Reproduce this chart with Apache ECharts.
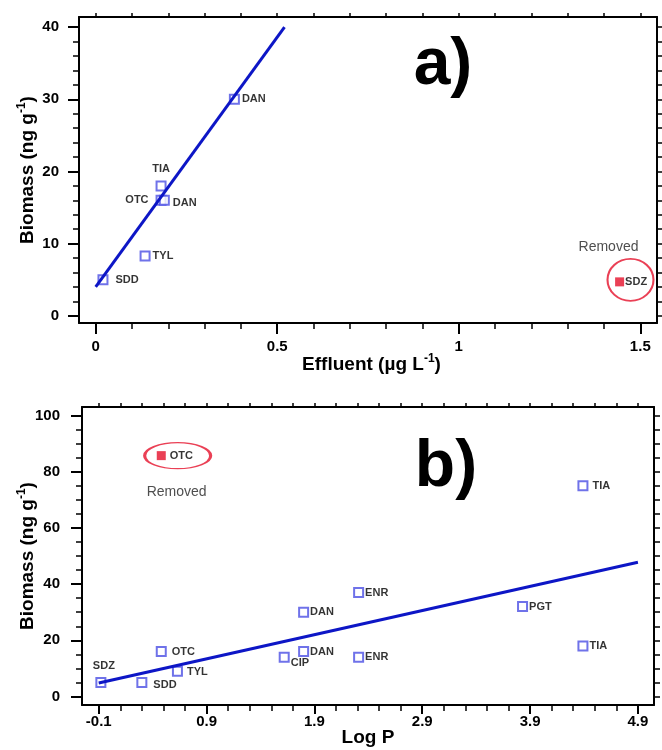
<!DOCTYPE html>
<html>
<head>
<meta charset="utf-8">
<script src="https://cdn.jsdelivr.net/npm/echarts@6/dist/echarts.min.js"></script>
<style>html,body{margin:0;padding:0;background:#fff}#c{width:662px;height:750px}</style>
</head>
<body>
<div id="c"></div>
<script>
// ---------- Panel a data ----------
const aNames = ['SDD', 'TYL', 'OTC', 'DAN', 'TIA', 'DAN'];
const aEffluent = [0.02, 0.136, 0.18, 0.189, 0.18, 0.382];
const aBiomass = [5, 8.3, 16, 16, 18, 30];
const aRemovedNames = ['SDZ'];
const aRemovedEffluent = [1.443];
const aRemovedBiomass = [4.7];
const aFitEffluent = [0, 0.52];
const aFitBiomass = [4, 40];
const aRingEffluent = [1.473];
const aRingBiomass = [4.98];
const aXTickLabels = [0, 0.5, 1, 1.5];
const aYTickLabels = [0, 10, 20, 30, 40];

// ---------- Panel b data ----------
const bNames = ['SDZ', 'SDD', 'OTC', 'TYL', 'CIP', 'DAN', 'DAN', 'ENR', 'ENR', 'PGT', 'TIA', 'TIA'];
const bLogP = [-0.08, 0.3, 0.48, 0.63, 1.62, 1.8, 1.8, 2.31, 2.31, 3.83, 4.39, 4.39];
const bBiomass = [5, 5, 16, 9, 14, 30, 16, 37, 14, 32, 75, 18];
const bRemovedNames = ['OTC'];
const bRemovedLogP = [0.48];
const bRemovedBiomass = [85.7];
const bFitLogP = [-0.1, 4.9];
const bFitBiomass = [4.8, 47.8];
const bRingLogP = [0.632];
const bRingBiomass = [85.7];
const bXTickLabels = [-0.1, 0.9, 1.9, 2.9, 3.9, 4.9];
const bYTickLabels = [0, 20, 40, 60, 80, 100];

// ---------- helpers ----------
const FONT = 'Liberation Sans, Arial, Helvetica, sans-serif';
function steps(from, to, step) {
  const out = [];
  const n = Math.round((to - from) / step);
  for (let i = 0; i <= n; i++) out.push(Math.round((from + i * step) * 1000) / 1000);
  return out;
}
const BOX = '#4b4fe4';
const LINE = '#0d16c6';
const RED = '#e5102a';

// label placements (layout only)
const aLabelLayout = [
  { position: 'right', distance: 7 },
  { position: 'right', distance: 2 },
  { position: 'left', distance: 7 },
  { position: 'right', distance: 3, offset: [0, 3] },
  { position: 'top', distance: 6 },
  { position: 'right', distance: 2 }
];
const bLabelLayout = [
  { position: 'top', distance: 6, offset: [3, 0] },
  { position: 'right', distance: 6, offset: [0, 2] },
  { position: 'right', distance: 5 },
  { position: 'right', distance: 4, offset: [0, 1] },
  { position: 'right', distance: 1, offset: [0, 6] },
  { position: 'right', distance: 1 },
  { position: 'right', distance: 1 },
  { position: 'right', distance: 1 },
  { position: 'right', distance: 1 },
  { position: 'right', distance: 1 },
  { position: 'right', distance: 4 },
  { position: 'right', distance: 1 }
];

function pts(xs, ys, names, layout) {
  return xs.map((x, i) => {
    const it = { value: [x, ys[i]], name: names ? names[i] : '' };
    if (layout) it.label = Object.assign({}, layout[i]);
    return it;
  });
}

const labelBase = { show: true, formatter: '{b}', color: '#000', fontSize: 11, fontWeight: 'bold', fontFamily: FONT };
const tickLabelStyle = { color: '#000', fontSize: 15, fontWeight: 'bold', fontFamily: FONT };
const nameRich = {
  n: { fontSize: 19, fontWeight: 'bold', fontFamily: FONT, color: '#000', lineHeight: 24 },
  s: { fontSize: 12, fontWeight: 'bold', fontFamily: FONT, color: '#000', lineHeight: 14, verticalAlign: 'top' }
};
const lineStyleAxis = { color: '#000', width: 2 };

function xAxes(grid, min, max, major, minor, topTicks, name, nameGap, labelMargin, majLen, minLen, namePad) {
  return [
    {
      type: 'value', gridIndex: grid, position: 'bottom', min, max,
      axisLine: { show: true, onZero: false, lineStyle: lineStyleAxis },
      axisTick: { show: true, customValues: major, length: majLen, lineStyle: { color: '#000', width: 2 } },
      axisLabel: Object.assign({ show: true, customValues: major, margin: labelMargin, showMinLabel: true, showMaxLabel: true }, tickLabelStyle),
      splitLine: { show: false },
      name, nameLocation: 'middle', nameGap, nameMoveOverlap: false,
      nameTextStyle: { rich: nameRich, fontSize: 19, fontWeight: 'bold', fontFamily: FONT, color: '#000', padding: namePad }
    },
    {
      type: 'value', gridIndex: grid, position: 'bottom', min, max,
      axisLine: { show: false, onZero: false },
      axisTick: { show: true, customValues: minor, length: minLen, lineStyle: { color: '#000', width: 1.5 } },
      axisLabel: { show: false }, splitLine: { show: false }
    },
    {
      type: 'value', gridIndex: grid, position: 'top', min, max,
      axisLine: { show: true, onZero: false, lineStyle: lineStyleAxis },
      axisTick: { show: true, customValues: topTicks, length: 4, lineStyle: { color: '#000', width: 1.5 } },
      axisLabel: { show: false }, splitLine: { show: false }
    }
  ];
}
function yAxes(grid, min, max, major, minor, rightTicks, name, nameGap, labelMargin, majLen, minLen) {
  return [
    {
      type: 'value', gridIndex: grid, position: 'left', min, max,
      axisLine: { show: true, onZero: false, lineStyle: lineStyleAxis },
      axisTick: { show: true, customValues: major, length: majLen, lineStyle: { color: '#000', width: 2 } },
      axisLabel: Object.assign({ show: true, customValues: major, margin: labelMargin }, tickLabelStyle),
      splitLine: { show: false },
      name, nameLocation: 'middle', nameGap, nameRotate: 90, nameMoveOverlap: false,
      nameTextStyle: { rich: nameRich }
    },
    {
      type: 'value', gridIndex: grid, position: 'left', min, max,
      axisLine: { show: false, onZero: false },
      axisTick: { show: true, customValues: minor, length: minLen, lineStyle: { color: '#000', width: 1.5 } },
      axisLabel: { show: false }, splitLine: { show: false }
    },
    {
      type: 'value', gridIndex: grid, position: 'right', min, max,
      axisLine: { show: true, onZero: false, lineStyle: lineStyleAxis },
      axisTick: { show: true, customValues: rightTicks, length: 6, lineStyle: { color: '#000', width: 1.5 } },
      axisLabel: { show: false }, splitLine: { show: false }
    }
  ];
}

const yName = '{n|Biomass (ng g}{s|-1}{n|)}';

const option = {
  animation: false,
  backgroundColor: '#fff',
  grid: [
    { left: 79, top: 17, width: 578, height: 306, containLabel: false, outerBoundsMode: 'none' },
    { left: 82, top: 407, width: 572, height: 298, containLabel: false, outerBoundsMode: 'none' }
  ],
  xAxis: [].concat(
    xAxes(0, -0.046, 1.546, aXTickLabels, steps(0, 1.5, 0.1), steps(0, 1.5, 0.1),
      '{n|Effluent (µg L}{s|-1}{n|)}', 30, 16, 11, 6, [0, 0, 0, 7]),
    xAxes(1, -0.255, 5.049, bXTickLabels, steps(-0.1, 4.9, 0.2), steps(-0.1, 4.9, 0.2),
      'Log P', 23, 9, 9, 6, [0, 0, 0, 0])
  ),
  yAxis: [].concat(
    yAxes(0, -1, 41.4, aYTickLabels, steps(0, 40, 2), steps(0, 40, 2), yName, 39, 20, 11, 6),
    yAxes(1, -3, 103, bYTickLabels, steps(0, 100, 5), steps(0, 100, 5), yName, 42, 22, 11, 6)
  ),
  graphic: [
    { type: 'text', x: 443, y: 66, style: { text: 'a)', fontSize: 66, fontWeight: 'bold', fontFamily: FONT, fill: '#000', align: 'center', verticalAlign: 'middle' } },
    { type: 'text', x: 446, y: 468, style: { text: 'b)', fontSize: 66, fontWeight: 'bold', fontFamily: FONT, fill: '#000', align: 'center', verticalAlign: 'middle' } }
  ],
  series: [
    // ----- panel a -----
    {
      type: 'scatter', xAxisIndex: 0, yAxisIndex: 0, z: 2,
      symbol: 'emptyRect', symbolSize: 9,
      itemStyle: { color: BOX, borderWidth: 1.2 },
      label: labelBase,
      data: pts(aEffluent, aBiomass, aNames, aLabelLayout)
    },
    {
      type: 'line', xAxisIndex: 0, yAxisIndex: 0, z: 3,
      showSymbol: false, symbol: 'none',
      lineStyle: { color: LINE, width: 3 },
      data: pts(aFitEffluent, aFitBiomass).map(d => d.value)
    },
    {
      type: 'scatter', xAxisIndex: 0, yAxisIndex: 0, z: 1,
      symbol: 'emptyCircle', symbolSize: [46, 42],
      itemStyle: { color: RED, borderWidth: 1.5 },
      label: { show: true, formatter: 'Removed', position: 'top', distance: 4, offset: [-22, 0], color: '#222', fontSize: 14, fontFamily: FONT },
      data: pts(aRingEffluent, aRingBiomass).map(d => d.value)
    },
    {
      type: 'scatter', xAxisIndex: 0, yAxisIndex: 0, z: 4,
      symbol: 'rect', symbolSize: 9,
      itemStyle: { color: RED },
      label: Object.assign({}, labelBase, { position: 'right', distance: 1 }),
      data: pts(aRemovedEffluent, aRemovedBiomass, aRemovedNames)
    },
    // ----- panel b -----
    {
      type: 'scatter', xAxisIndex: 3, yAxisIndex: 3, z: 2,
      symbol: 'emptyRect', symbolSize: 9,
      itemStyle: { color: BOX, borderWidth: 1.2 },
      label: labelBase,
      data: pts(bLogP, bBiomass, bNames, bLabelLayout)
    },
    {
      type: 'line', xAxisIndex: 3, yAxisIndex: 3, z: 3,
      showSymbol: false, symbol: 'none',
      lineStyle: { color: LINE, width: 3 },
      data: pts(bFitLogP, bFitBiomass).map(d => d.value)
    },
    {
      type: 'scatter', xAxisIndex: 3, yAxisIndex: 3, z: 1,
      symbol: 'emptyCircle', symbolSize: [66, 26],
      itemStyle: { color: RED, borderWidth: 1.5 },
      label: { show: true, formatter: 'Removed', position: 'bottom', distance: 16, offset: [-1, 0], color: '#222', fontSize: 14, fontFamily: FONT },
      data: pts(bRingLogP, bRingBiomass).map(d => d.value)
    },
    {
      type: 'scatter', xAxisIndex: 3, yAxisIndex: 3, z: 4,
      symbol: 'rect', symbolSize: 9,
      itemStyle: { color: RED },
      label: Object.assign({}, labelBase, { position: 'right', distance: 4 }),
      data: pts(bRemovedLogP, bRemovedBiomass, bRemovedNames)
    }
  ]
};

const chart = echarts.init(document.getElementById('c'), null, { renderer: 'canvas' });
chart.setOption(option);
</script>
</body>
</html>
